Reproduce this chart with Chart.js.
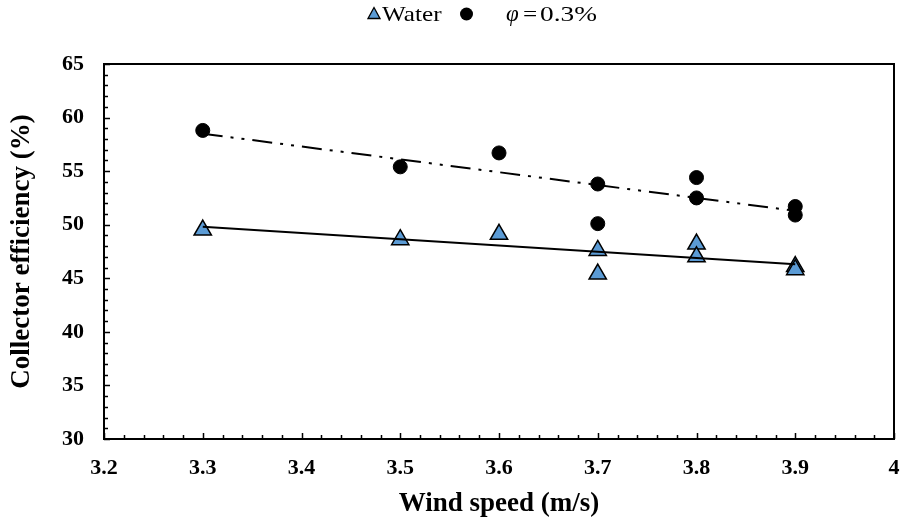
<!DOCTYPE html>
<html>
<head>
<meta charset="utf-8">
<script src="https://cdn.jsdelivr.net/npm/chart.js@4"></script>
<style>
  body { margin: 0; background: #fff; }
  #wrap { position: relative; width: 902px; height: 522px; }
  #legend { position: absolute; top: 0; left: 0; width: 902px; height: 28px;
    font-family: 'Liberation Serif', 'Times New Roman', serif; font-size: 21px; color: #000; }
  #legend span { position: absolute; top: 2px; line-height: 24px; transform-origin: left center; white-space: pre; }
  #legend svg { position: absolute; }
</style>
</head>
<body>
<div id="wrap">
  <canvas id="myChart" width="902" height="522"></canvas>
  <div id="legend">
    <svg style="left:367px;top:6px" width="14" height="14"><polygon points="7,1.5 13,12.5 1,12.5" fill="#5b9bd5" stroke="#000" stroke-width="1.3"/></svg>
    <span style="left:382px;transform:scaleX(1.2)">Water</span>
    <svg style="left:459px;top:7px" width="15" height="15"><circle cx="7.5" cy="7" r="6.5" fill="#000"/></svg>
    <span style="left:506px"><i style="font-size:23px">φ</i></span>
    <span style="left:523px;transform:scaleX(1.2)">=</span>
    <span style="left:540px;transform:scaleX(1.3)">0.3%</span>
  </div>
</div>
<script>
(function () {
    "use strict";

    // wind speed (m/s) for each measured point
    let windSpeed = [3.3, 3.5, 3.6, 3.7, 3.7, 3.8, 3.8, 3.9, 3.9];
    let waterEff = [49.5, 48.6, 49.1, 47.6, 45.4, 48.2, 47.0, 46.1, 45.8];
    let nanoEff = [58.8, 55.4, 56.7, 53.8, 50.1, 54.4, 52.5, 51.7, 50.9];

    // trend line end points
    let trendX = [3.3, 3.9];
    let waterTrend = [49.8, 46.3];
    let nanoTrend = [58.5, 51.3];

    let xTicks = [3.2, 3.3, 3.4, 3.5, 3.6, 3.7, 3.8, 3.9, 4];
    let yTicks = [30, 35, 40, 45, 50, 55, 60, 65];

    function pts(xs, ys) {
        let out = [];
        for (let i = 0; i < xs.length; i++) out.push({ x: xs[i], y: ys[i] });
        return out;
    }

    // frame plus inward minor/major ticks, like the original
    let frameTicks = {
        id: 'frameTicks',
        afterDatasetsDraw(chart) {
            let c = chart.ctx, a = chart.chartArea;
            let xs = chart.scales.x, ys = chart.scales.y;
            c.save();
            c.strokeStyle = '#000';
            c.lineWidth = 2;
            c.strokeRect(a.left, a.top, a.right - a.left, a.bottom - a.top);
            c.lineWidth = 1.5;
            c.beginPath();
            for (let k = 0; k <= 40; k++) {
                let v = xTicks[0] + k * 0.02;
                let px = Math.round(xs.getPixelForValue(v)) + 0.5;
                let len = (k % 5 === 0) ? 6 : 4;
                c.moveTo(px, a.bottom);
                c.lineTo(px, a.bottom - len);
            }
            for (let k = 0; k <= 35; k++) {
                let v = yTicks[0] + k;
                let py = Math.round(ys.getPixelForValue(v)) + 0.5;
                let len = (k % 5 === 0) ? 6 : 4;
                c.moveTo(a.left, py);
                c.lineTo(a.left + len, py);
            }
            c.stroke();
            c.restore();
        }
    };

    let tickFont = { family: "'Liberation Serif', 'Times New Roman', serif", size: 22, weight: 'bold' };
    let titleFont = { family: "'Liberation Serif', 'Times New Roman', serif", size: 27, weight: 'bold' };

    let ctx = document.getElementById('myChart').getContext('2d');
    let chart = new Chart(ctx, {
        type: 'scatter',
        data: {
            datasets: [
                {
                    label: 'Water trend',
                    type: 'line',
                    data: pts(trendX, waterTrend),
                    borderColor: '#000',
                    borderWidth: 2,
                    pointRadius: 0,
                    fill: false,
                    order: 0
                },
                {
                    label: 'φ= 0.3% trend',
                    type: 'line',
                    data: pts(trendX, nanoTrend),
                    borderColor: '#000',
                    borderWidth: 2,
                    borderDash: [20, 8, 3, 8, 3, 8],
                    pointRadius: 0,
                    fill: false,
                    order: 0
                },
                {
                    label: 'Water',
                    data: pts(windSpeed, waterEff),
                    pointStyle: 'triangle',
                    pointRadius: 10,
                    backgroundColor: '#5b9bd5',
                    borderColor: '#000',
                    borderWidth: 1.5,
                    order: 2
                },
                {
                    label: 'φ= 0.3%',
                    data: pts(windSpeed, nanoEff),
                    pointStyle: 'circle',
                    pointRadius: 7,
                    backgroundColor: '#000',
                    borderColor: '#000',
                    borderWidth: 1,
                    order: 1
                }
            ]
        },
        options: {
            responsive: false,
            animation: false,
            layout: { autoPadding: false, padding: { top: 64, right: 8, left: 0, bottom: 0 } },
            plugins: {
                legend: { display: false },
                tooltip: { enabled: false }
            },
            scales: {
                x: {
                    type: 'linear',
                    min: 3.2,
                    max: 4,
                    grid: { display: false, drawTicks: false },
                    border: { display: false },
                    afterBuildTicks: function (s) { s.ticks = xTicks.map(v => ({ value: v })); },
                    afterFit: function (s) {
                        s.height = 83;
                        s.paddingLeft = 0;
                        s.paddingRight = 0;
                    },
                    ticks: {
                        color: '#000',
                        font: tickFont,
                        padding: 16,
                        callback: v => String(Number(v.toFixed(1)))
                    },
                    title: {
                        display: true,
                        text: 'Wind speed (m/s)',
                        color: '#000',
                        font: titleFont,
                        padding: { top: 4, bottom: 2 }
                    }
                },
                y: {
                    min: 30,
                    max: 65,
                    grid: { display: false, drawTicks: false },
                    border: { display: false },
                    afterBuildTicks: function (s) { s.ticks = yTicks.map(v => ({ value: v })); },
                    afterFit: function (s) {
                        s.width = 104;
                        s.paddingTop = 0;
                        s.paddingBottom = 0;
                    },
                    ticks: {
                        color: '#000',
                        font: tickFont,
                        padding: 20
                    },
                    title: {
                        display: true,
                        text: 'Collector efficiency (%)',
                        color: '#000',
                        font: titleFont,
                        padding: { top: 6, bottom: 4 }
                    }
                }
            }
        },
        plugins: [frameTicks]
    });
})();
</script>
</body>
</html>
